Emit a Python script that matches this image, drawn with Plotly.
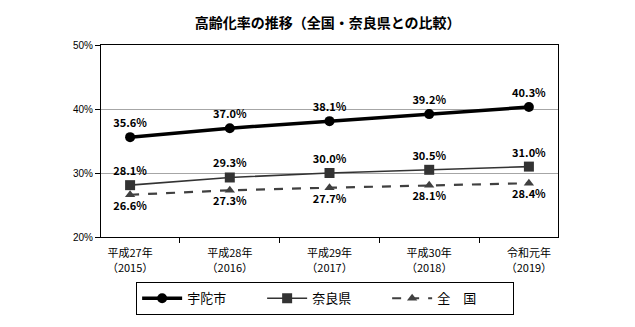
import plotly.graph_objects as go

# 年度ラベル（和暦＋西暦）
categories = ["平成27年<br>（2015）", "平成28年<br>（2016）", "平成29年<br>（2017）",
              "平成30年<br>（2018）", "令和元年<br>（2019）"]

# 高齢化率（%）
uda = [35.6, 37.0, 38.1, 39.2, 40.3]
nara = [28.1, 29.3, 30.0, 30.5, 31.0]
zenkoku = [26.6, 27.3, 27.7, 28.1, 28.4]

y_ticks = [20, 30, 40, 50]

label_font = dict(family="Noto Sans CJK JP", size=11, color="#000000")
label_tpl = "<b>%{y:.1f}%</b>"

fig = go.Figure()

fig.add_trace(go.Scatter(
    x=categories, y=uda, name="宇陀市", mode="lines+markers+text",
    line=dict(color="#000000", width=3.5),
    marker=dict(symbol="circle", size=10, color="#000000"),
    texttemplate=label_tpl, textposition="top center", textfont=label_font,
))

fig.add_trace(go.Scatter(
    x=categories, y=nara, name="奈良県", mode="lines+markers+text",
    line=dict(color="#333333", width=1.6),
    marker=dict(symbol="square", size=10, color="#333333"),
    texttemplate=label_tpl, textposition="top center", textfont=label_font,
))

fig.add_trace(go.Scatter(
    x=categories, y=zenkoku, name="全　国", mode="lines+markers+text",
    line=dict(color="#404040", width=2.2, dash="dash"),
    marker=dict(symbol="triangle-up", size=9, color="#404040"),
    texttemplate=label_tpl, textposition="bottom center", textfont=label_font,
))

fig.update_layout(
    width=635, height=327,
    margin=dict(l=101, r=77, t=45, b=90, autoexpand=False),
    paper_bgcolor="#ffffff", plot_bgcolor="#ffffff",
    font=dict(family="Noto Sans CJK JP", color="#000000"),
    title=dict(
        text="<b>高齢化率の推移（全国・奈良県との比較）</b>",
        x=0.496, xanchor="center", xref="paper",
        y=0.93, yanchor="middle", yref="container",
        font=dict(size=14, color="#000000"),
    ),
    showlegend=True,
    legend=dict(
        orientation="h", x=0.49, xanchor="center", y=-0.235, yanchor="top",
        bordercolor="#000000", borderwidth=1.2, bgcolor="#ffffff",
        font=dict(size=13), entrywidth=70, itemwidth=40,
        traceorder="normal",
    ),
)

fig.update_xaxes(
    type="category", showgrid=False, showline=True, linecolor="#000000", linewidth=1.2,
    mirror=True, ticks="outside", tickson="boundaries", ticklen=5, tickcolor="#000000",
    tickfont=dict(size=11, color="#000000"), ticklabelstandoff=6,
)

fig.update_yaxes(
    range=[20, 50], tickvals=y_ticks, ticktext=[f"{v}%" for v in y_ticks],
    showgrid=True, gridcolor="#a6a6a6", gridwidth=1,
    showline=True, linecolor="#000000", linewidth=1.2, mirror=True,
    ticks="outside", ticklen=5, tickcolor="#000000",
    tickfont=dict(family="Liberation Sans", size=10, color="#000000"),
    zeroline=False,
)

fig.write_html("out.html")
